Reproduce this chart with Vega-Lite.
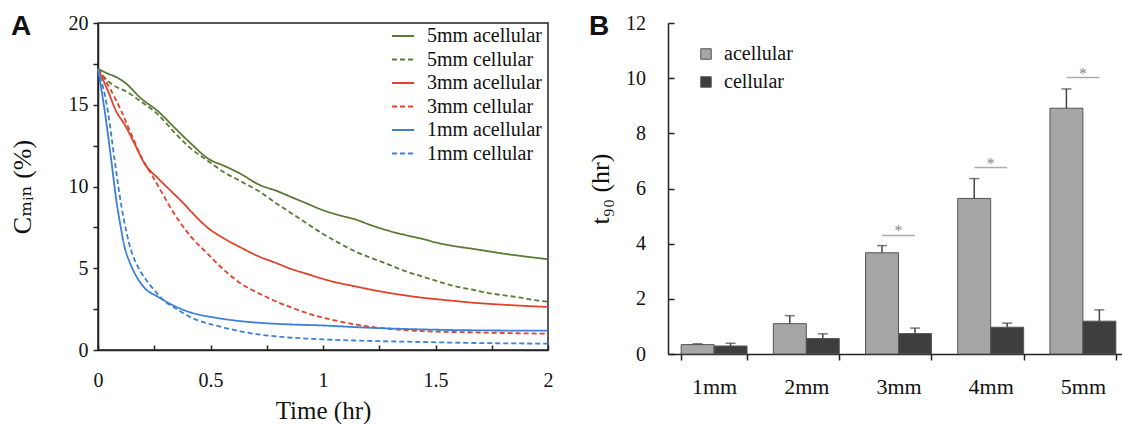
{
  "$schema": "https://vega.github.io/schema/vega-lite/v6.json",
  "padding": {"left": 8, "top": 12, "right": 0, "bottom": 0},
  "background": "white",
  "config": {
    "font": "Liberation Serif, Times New Roman, DejaVu Serif, serif",
    "view": {"stroke": null},
    "axis": {"grid": false, "labelFont": "Liberation Serif, Times New Roman, DejaVu Serif, serif", "titleFont": "Liberation Serif, Times New Roman, DejaVu Serif, serif", "titleFontWeight": "normal", "labelColor": "#111", "titleColor": "#111", "domainColor": "#222", "tickColor": "#222", "domainWidth": 1.5, "tickWidth": 1.5},
    "legend": {"labelFont": "Liberation Serif, Times New Roman, DejaVu Serif, serif"},
    "text": {"font": "Liberation Serif, Times New Roman, DejaVu Serif, serif"}
  },
  "resolve": {"scale": {"color": "independent", "strokeDash": "independent"}, "legend": {"color": "independent", "strokeDash": "independent"}},
  "datasets": {
    "curves": [
      {"s":"5mm acellular","t":0,"c":17.2},{"s":"5mm acellular","t":0.044,"c":16.9},{"s":"5mm acellular","t":0.08,"c":16.7},{"s":"5mm acellular","t":0.12,"c":16.35},{"s":"5mm acellular","t":0.19,"c":15.4},{"s":"5mm acellular","t":0.267,"c":14.6},{"s":"5mm acellular","t":0.34,"c":13.6},{"s":"5mm acellular","t":0.415,"c":12.6},{"s":"5mm acellular","t":0.49,"c":11.7},{"s":"5mm acellular","t":0.563,"c":11.25},{"s":"5mm acellular","t":0.637,"c":10.75},{"s":"5mm acellular","t":0.71,"c":10.15},{"s":"5mm acellular","t":0.8,"c":9.7},{"s":"5mm acellular","t":0.86,"c":9.35},{"s":"5mm acellular","t":0.93,"c":8.95},{"s":"5mm acellular","t":1.0,"c":8.55},{"s":"5mm acellular","t":1.07,"c":8.25},{"s":"5mm acellular","t":1.14,"c":8.0},{"s":"5mm acellular","t":1.21,"c":7.65},{"s":"5mm acellular","t":1.29,"c":7.3},{"s":"5mm acellular","t":1.36,"c":7.05},{"s":"5mm acellular","t":1.44,"c":6.8},{"s":"5mm acellular","t":1.51,"c":6.55},{"s":"5mm acellular","t":1.585,"c":6.35},{"s":"5mm acellular","t":1.66,"c":6.2},{"s":"5mm acellular","t":1.73,"c":6.05},{"s":"5mm acellular","t":1.8,"c":5.9},{"s":"5mm acellular","t":1.88,"c":5.75},{"s":"5mm acellular","t":1.94,"c":5.65},{"s":"5mm acellular","t":2.0,"c":5.55},
      {"s":"5mm cellular","t":0,"c":17.2},{"s":"5mm cellular","t":0.044,"c":16.45},{"s":"5mm cellular","t":0.08,"c":16.1},{"s":"5mm cellular","t":0.12,"c":15.85},{"s":"5mm cellular","t":0.19,"c":15.2},{"s":"5mm cellular","t":0.267,"c":14.4},{"s":"5mm cellular","t":0.34,"c":13.3},{"s":"5mm cellular","t":0.415,"c":12.3},{"s":"5mm cellular","t":0.49,"c":11.55},{"s":"5mm cellular","t":0.563,"c":10.85},{"s":"5mm cellular","t":0.637,"c":10.3},{"s":"5mm cellular","t":0.71,"c":9.75},{"s":"5mm cellular","t":0.8,"c":8.9},{"s":"5mm cellular","t":0.9,"c":8.0},{"s":"5mm cellular","t":1.0,"c":7.1},{"s":"5mm cellular","t":1.07,"c":6.55},{"s":"5mm cellular","t":1.14,"c":6.05},{"s":"5mm cellular","t":1.21,"c":5.65},{"s":"5mm cellular","t":1.29,"c":5.24},{"s":"5mm cellular","t":1.36,"c":4.85},{"s":"5mm cellular","t":1.44,"c":4.5},{"s":"5mm cellular","t":1.51,"c":4.2},{"s":"5mm cellular","t":1.585,"c":3.9},{"s":"5mm cellular","t":1.66,"c":3.7},{"s":"5mm cellular","t":1.73,"c":3.5},{"s":"5mm cellular","t":1.8,"c":3.35},{"s":"5mm cellular","t":1.88,"c":3.2},{"s":"5mm cellular","t":1.94,"c":3.05},{"s":"5mm cellular","t":2.0,"c":2.95},
      {"s":"3mm acellular","t":0,"c":17.2},{"s":"3mm acellular","t":0.044,"c":15.85},{"s":"3mm acellular","t":0.081,"c":14.6},{"s":"3mm acellular","t":0.118,"c":13.8},{"s":"3mm acellular","t":0.163,"c":12.6},{"s":"3mm acellular","t":0.207,"c":11.4},{"s":"3mm acellular","t":0.267,"c":10.5},{"s":"3mm acellular","t":0.326,"c":9.7},{"s":"3mm acellular","t":0.385,"c":8.9},{"s":"3mm acellular","t":0.415,"c":8.45},{"s":"3mm acellular","t":0.49,"c":7.45},{"s":"3mm acellular","t":0.563,"c":6.8},{"s":"3mm acellular","t":0.637,"c":6.25},{"s":"3mm acellular","t":0.71,"c":5.75},{"s":"3mm acellular","t":0.786,"c":5.35},{"s":"3mm acellular","t":0.86,"c":4.95},{"s":"3mm acellular","t":0.93,"c":4.65},{"s":"3mm acellular","t":1.0,"c":4.35},{"s":"3mm acellular","t":1.07,"c":4.1},{"s":"3mm acellular","t":1.14,"c":3.9},{"s":"3mm acellular","t":1.21,"c":3.7},{"s":"3mm acellular","t":1.29,"c":3.5},{"s":"3mm acellular","t":1.36,"c":3.35},{"s":"3mm acellular","t":1.44,"c":3.2},{"s":"3mm acellular","t":1.51,"c":3.1},{"s":"3mm acellular","t":1.585,"c":3.0},{"s":"3mm acellular","t":1.66,"c":2.9},{"s":"3mm acellular","t":1.73,"c":2.83},{"s":"3mm acellular","t":1.8,"c":2.77},{"s":"3mm acellular","t":1.88,"c":2.71},{"s":"3mm acellular","t":2.0,"c":2.63},
      {"s":"3mm cellular","t":0,"c":17.2},{"s":"3mm cellular","t":0.059,"c":15.85},{"s":"3mm cellular","t":0.104,"c":14.6},{"s":"3mm cellular","t":0.148,"c":13.2},{"s":"3mm cellular","t":0.193,"c":11.8},{"s":"3mm cellular","t":0.237,"c":10.75},{"s":"3mm cellular","t":0.281,"c":9.7},{"s":"3mm cellular","t":0.318,"c":8.8},{"s":"3mm cellular","t":0.36,"c":7.9},{"s":"3mm cellular","t":0.415,"c":6.9},{"s":"3mm cellular","t":0.49,"c":5.85},{"s":"3mm cellular","t":0.563,"c":4.85},{"s":"3mm cellular","t":0.637,"c":4.05},{"s":"3mm cellular","t":0.71,"c":3.5},{"s":"3mm cellular","t":0.786,"c":3.0},{"s":"3mm cellular","t":0.86,"c":2.6},{"s":"3mm cellular","t":0.93,"c":2.25},{"s":"3mm cellular","t":1.0,"c":1.98},{"s":"3mm cellular","t":1.07,"c":1.76},{"s":"3mm cellular","t":1.14,"c":1.57},{"s":"3mm cellular","t":1.21,"c":1.42},{"s":"3mm cellular","t":1.29,"c":1.3},{"s":"3mm cellular","t":1.36,"c":1.22},{"s":"3mm cellular","t":1.44,"c":1.16},{"s":"3mm cellular","t":1.51,"c":1.12},{"s":"3mm cellular","t":1.585,"c":1.1},{"s":"3mm cellular","t":1.66,"c":1.08},{"s":"3mm cellular","t":1.73,"c":1.06},{"s":"3mm cellular","t":1.8,"c":1.04},{"s":"3mm cellular","t":1.88,"c":1.02},{"s":"3mm cellular","t":2.0,"c":1.0},
      {"s":"1mm acellular","t":0,"c":17.2},{"s":"1mm acellular","t":0.03,"c":14.6},{"s":"1mm acellular","t":0.059,"c":11.6},{"s":"1mm acellular","t":0.083,"c":9.0},{"s":"1mm acellular","t":0.1,"c":7.6},{"s":"1mm acellular","t":0.118,"c":6.3},{"s":"1mm acellular","t":0.14,"c":5.4},{"s":"1mm acellular","t":0.163,"c":4.7},{"s":"1mm acellular","t":0.207,"c":3.8},{"s":"1mm acellular","t":0.267,"c":3.25},{"s":"1mm acellular","t":0.34,"c":2.69},{"s":"1mm acellular","t":0.415,"c":2.28},{"s":"1mm acellular","t":0.52,"c":1.98},{"s":"1mm acellular","t":0.61,"c":1.8},{"s":"1mm acellular","t":0.71,"c":1.67},{"s":"1mm acellular","t":0.86,"c":1.56},{"s":"1mm acellular","t":1.0,"c":1.5},{"s":"1mm acellular","t":1.14,"c":1.4},{"s":"1mm acellular","t":1.29,"c":1.32},{"s":"1mm acellular","t":1.44,"c":1.26},{"s":"1mm acellular","t":1.585,"c":1.22},{"s":"1mm acellular","t":1.8,"c":1.19},{"s":"1mm acellular","t":2.0,"c":1.18},
      {"s":"1mm cellular","t":0,"c":17.2},{"s":"1mm cellular","t":0.044,"c":14.6},{"s":"1mm cellular","t":0.074,"c":11.6},{"s":"1mm cellular","t":0.104,"c":8.8},{"s":"1mm cellular","t":0.125,"c":7.3},{"s":"1mm cellular","t":0.148,"c":6.05},{"s":"1mm cellular","t":0.17,"c":5.3},{"s":"1mm cellular","t":0.192,"c":4.73},{"s":"1mm cellular","t":0.23,"c":4.0},{"s":"1mm cellular","t":0.267,"c":3.4},{"s":"1mm cellular","t":0.3,"c":2.95},{"s":"1mm cellular","t":0.34,"c":2.59},{"s":"1mm cellular","t":0.415,"c":1.98},{"s":"1mm cellular","t":0.49,"c":1.62},{"s":"1mm cellular","t":0.563,"c":1.36},{"s":"1mm cellular","t":0.637,"c":1.13},{"s":"1mm cellular","t":0.71,"c":0.96},{"s":"1mm cellular","t":0.786,"c":0.84},{"s":"1mm cellular","t":0.86,"c":0.75},{"s":"1mm cellular","t":0.93,"c":0.7},{"s":"1mm cellular","t":1.0,"c":0.65},{"s":"1mm cellular","t":1.14,"c":0.58},{"s":"1mm cellular","t":1.29,"c":0.53},{"s":"1mm cellular","t":1.44,"c":0.49},{"s":"1mm cellular","t":1.585,"c":0.45},{"s":"1mm cellular","t":1.73,"c":0.42},{"s":"1mm cellular","t":1.88,"c":0.4},{"s":"1mm cellular","t":2.0,"c":0.39}
    ],
    "bars": [
      {"size":"1mm","group":"acellular","value":0.34,"err":0.37},
      {"size":"1mm","group":"cellular","value":0.29,"err":0.39},
      {"size":"2mm","group":"acellular","value":1.1,"err":1.39},
      {"size":"2mm","group":"cellular","value":0.56,"err":0.73},
      {"size":"3mm","group":"acellular","value":3.67,"err":3.93},
      {"size":"3mm","group":"cellular","value":0.74,"err":0.94},
      {"size":"4mm","group":"acellular","value":5.64,"err":6.36},
      {"size":"4mm","group":"cellular","value":0.97,"err":1.12},
      {"size":"5mm","group":"acellular","value":8.91,"err":9.61},
      {"size":"5mm","group":"cellular","value":1.19,"err":1.6}
    ],
    "sig": [
      {"size":"3mm","line":4.3,"mark":"*"},
      {"size":"4mm","line":6.76,"mark":"*"},
      {"size":"5mm","line":10.02,"mark":"*"}
    ]
  },
  "spacing": 33,
  "hconcat": [
    {
      "width": 450,
      "height": 327,
      "view": {"stroke": "#222", "strokeWidth": 1.5},
      "title": {"text": "A", "anchor": "start", "frame": "group", "font": "Liberation Sans, Arial, DejaVu Sans, sans-serif", "fontSize": 28, "fontWeight": "bold", "color": "#111", "baseline": "alphabetic", "offset": -50, "dx": -87},
      "data": {"name": "curves"},
      "mark": {"type": "line", "strokeWidth": 1.8, "interpolate": "monotone"},
      "encoding": {
        "x": {"field": "t", "type": "quantitative", "scale": {"domain": [0, 2], "nice": false},
          "axis": {"title": "Time (hr)", "values": [0, 0.25, 0.5, 0.75, 1, 1.25, 1.5, 1.75, 2], "format": "~g", "labelExpr": "datum.value % 0.5 == 0 ? datum.label : ''", "tickSize": -5, "labelPadding": 25, "labelFont": "Liberation Serif, Times New Roman, DejaVu Serif, serif", "labelFontSize": 20, "titleFontSize": 25, "titlePadding": 8, "labelFlush": false}},
        "y": {"field": "c", "type": "quantitative", "scale": {"domain": [0, 20], "nice": false},
          "axis": {"title": "Cₘᵢₙ (%)", "values": [0, 2.5, 5, 7.5, 10, 12.5, 15, 17.5, 20], "labelExpr": "datum.value % 5 == 0 ? datum.label : ''", "tickSize": 5, "labelPadding": 5, "labelFont": "Liberation Serif, Times New Roman, DejaVu Serif, serif", "labelFontSize": 20, "titleFontSize": 26, "titlePadding": 33}},
        "color": {"field": "s", "type": "nominal",
          "scale": {"domain": ["5mm acellular", "5mm cellular", "3mm acellular", "3mm cellular", "1mm acellular", "1mm cellular"], "range": ["#5b7a35", "#5b7a35", "#e2412b", "#e2412b", "#3b80d6", "#3b80d6"]},
          "legend": {"title": null, "orient": "none", "legendX": 293, "legendY": 1, "symbolType": "stroke", "symbolSize": 484, "symbolStrokeWidth": 2, "labelFont": "Liberation Serif, Times New Roman, DejaVu Serif, serif", "labelFontSize": 20, "labelColor": "#111", "rowPadding": 1.5, "labelOffset": 12}},
        "strokeDash": {"field": "s", "type": "nominal",
          "scale": {"domain": ["5mm acellular", "5mm cellular", "3mm acellular", "3mm cellular", "1mm acellular", "1mm cellular"], "range": [[1, 0], [5, 3], [1, 0], [5, 3], [1, 0], [5, 3]]},
          "legend": {"title": null, "orient": "none", "legendX": 293, "legendY": 1, "symbolType": "stroke", "symbolSize": 484, "symbolStrokeWidth": 2, "labelFont": "Liberation Serif, Times New Roman, DejaVu Serif, serif", "labelFontSize": 20, "labelColor": "#111", "rowPadding": 1.5, "labelOffset": 12}}
      }
    },
    {
      "width": 461,
      "height": 331,
      "title": {"text": "B", "anchor": "start", "frame": "group", "font": "Liberation Sans, Arial, DejaVu Sans, sans-serif", "fontSize": 28, "fontWeight": "bold", "color": "#111", "baseline": "alphabetic", "offset": -50, "dx": -79},
      "encoding": {
        "x": {"field": "size", "type": "nominal", "sort": ["1mm", "2mm", "3mm", "4mm", "5mm"],
          "scale": {"paddingInner": 0.285, "paddingOuter": 0.1425},
          "axis": {"title": null, "labelAngle": 0, "tickBand": "extent", "tickSize": 6, "labelPadding": 16, "labelFont": "Liberation Serif, Times New Roman, DejaVu Serif, serif", "labelFontSize": 22}}
      },
      "layer": [
        {
          "data": {"name": "bars"},
          "mark": {"type": "bar", "stroke": "#555", "strokeWidth": 1},
          "encoding": {
            "xOffset": {"field": "group", "type": "nominal", "scale": {"domain": ["acellular", "cellular"], "paddingInner": 0, "paddingOuter": 0}},
            "y": {"field": "value", "type": "quantitative", "scale": {"domain": [0, 12], "nice": false},
              "axis": {"title": "t₉₀ (hr)", "values": [0, 1, 2, 3, 4, 5, 6, 7, 8, 9, 10, 11, 12], "labelExpr": "datum.value % 2 == 0 ? datum.label : ''", "tickSize": -6, "labelPadding": 28.5, "labelFont": "Liberation Serif, Times New Roman, DejaVu Serif, serif", "labelFontSize": 20, "titleFontSize": 26, "titlePadding": 12}},
            "color": {"field": "group", "type": "nominal", "scale": {"domain": ["acellular", "cellular"], "range": ["#a6a6a6", "#3e3e3e"]},
              "legend": {"title": null, "orient": "none", "legendX": 28, "legendY": 21, "symbolType": "square", "symbolSize": 110, "symbolStrokeColor": "#555", "symbolStrokeWidth": 1, "labelFont": "Liberation Serif, Times New Roman, DejaVu Serif, serif", "labelFontSize": 20, "labelColor": "#111", "rowPadding": 8, "labelOffset": 8}}
          }
        },
        {
          "data": {"name": "bars"},
          "mark": {"type": "rule", "color": "#444", "strokeWidth": 1.5},
          "encoding": {
            "xOffset": {"field": "group", "type": "nominal"},
            "y": {"field": "value", "type": "quantitative"},
            "y2": {"field": "err"}
          }
        },
        {
          "data": {"name": "bars"},
          "mark": {"type": "tick", "orient": "horizontal", "color": "#444", "size": 10, "thickness": 1.5},
          "encoding": {
            "xOffset": {"field": "group", "type": "nominal"},
            "y": {"field": "err", "type": "quantitative"}
          }
        },
        {
          "data": {"name": "sig"},
          "mark": {"type": "tick", "orient": "horizontal", "color": "#8a8a8a", "size": 33, "thickness": 1.5},
          "encoding": {
            "y": {"field": "line", "type": "quantitative"}
          }
        },
        {
          "data": {"name": "sig"},
          "mark": {"type": "text", "color": "#8a8a8a", "fontSize": 16, "font": "Liberation Serif, Times New Roman, DejaVu Serif, serif", "baseline": "alphabetic", "dy": 1},
          "encoding": {
            "y": {"field": "line", "type": "quantitative"},
            "text": {"field": "mark"}
          }
        },
        {
          "mark": {"type": "rule", "color": "#222", "strokeWidth": 1.5},
          "encoding": {"y": {"datum": 12}}
        }
      ]
    }
  ]
}
